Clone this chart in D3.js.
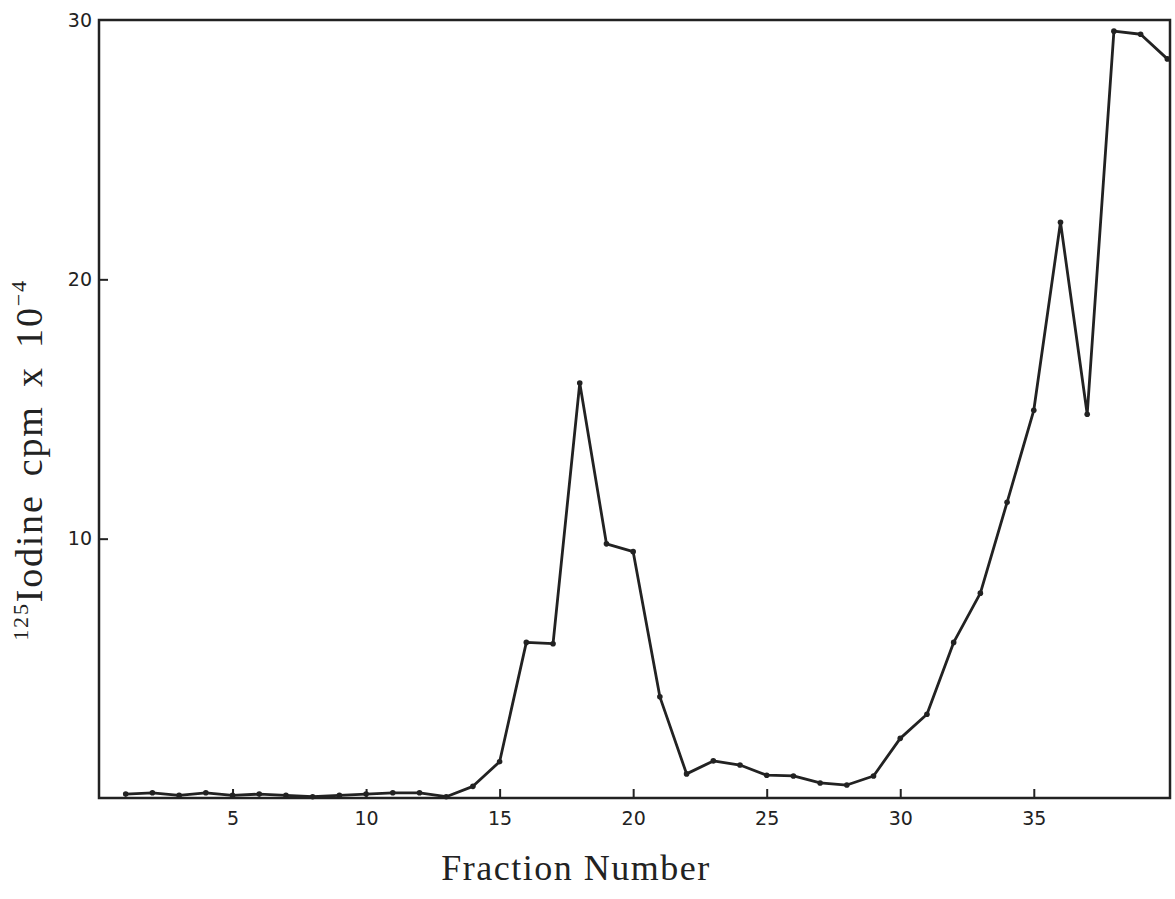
<!DOCTYPE html>
<html>
<head>
<meta charset="utf-8">
<script src="https://cdn.jsdelivr.net/npm/d3@7"></script>
<style>
  body { margin: 0; background: #fff; }
  .tick-label { font-family: "DejaVu Sans", sans-serif; font-size: 19px; fill: #222; }
  .axis-title { font-family: "Liberation Serif", serif; fill: #222; }
</style>
</head>
<body>
<div class="chart"></div>
<script>
var w = 1175,
  h = 899,
  margin = { left: 99, right: 5, top: 20, bottom: 101 };

// fraction numbers and counts (cpm x 10^-4)
var fractions = d3.range(1, 41);
var counts = [0.15, 0.2, 0.1, 0.2, 0.1, 0.15, 0.1, 0.05, 0.1, 0.15,
  0.2, 0.2, 0.05, 0.45, 1.4, 6.0, 5.95, 16.0, 9.8, 9.5,
  3.9, 0.93, 1.43, 1.27, 0.88, 0.85, 0.58, 0.5, 0.85, 2.3,
  3.23, 6.0, 7.9, 11.4, 14.95, 22.2, 14.8, 29.57, 29.45, 28.5];
var xTicks = [5, 10, 15, 20, 25, 30, 35];
var yTicks = [10, 20, 30];

var data = fractions.map(function (f, i) { return { f: f, v: counts[i] }; });

var x = d3.scaleLinear()
  .domain([0, 40.1])
  .range([margin.left, w - margin.right]);

var y = d3.scaleLinear()
  .domain([0, 30])
  .range([h - margin.bottom, margin.top]);

var svg = d3.select('.chart')
  .append('svg')
  .attr('width', w)
  .attr('height', h);

var ink = '#222';

// frame
svg.append('rect')
  .attr('x', x(0))
  .attr('y', y(30))
  .attr('width', x(40.1) - x(0))
  .attr('height', y(0) - y(30))
  .attr('fill', 'none')
  .attr('stroke', ink)
  .attr('stroke-width', 2.5);

// x ticks point inward from the bottom edge
var xAxis = d3.axisBottom(x)
  .tickValues(xTicks)
  .tickSize(-9)
  .tickPadding(14)
  .tickFormat(d3.format('d'));

var gx = svg.append('g')
  .attr('transform', 'translate(0,' + y(0) + ')')
  .call(xAxis);
gx.select('.domain').remove();
gx.selectAll('line').attr('stroke', ink).attr('stroke-width', 2);
gx.selectAll('text').attr('class', 'tick-label').attr('font-family', null).attr('font-size', null);

var yAxis = d3.axisLeft(y)
  .tickValues(yTicks)
  .tickSize(-9)
  .tickPadding(7)
  .tickFormat(d3.format('d'));

var gy = svg.append('g')
  .attr('transform', 'translate(' + x(0) + ',0)')
  .call(yAxis);
gy.select('.domain').remove();
gy.selectAll('line').attr('stroke', ink).attr('stroke-width', 2)
  .attr('display', function (d) { return d === 30 ? 'none' : null; });
gy.selectAll('text').attr('class', 'tick-label').attr('font-family', null).attr('font-size', null);

// profile line
var line = d3.line()
  .x(function (d) { return x(d.f); })
  .y(function (d) { return y(d.v); });

svg.append('path')
  .datum(data)
  .attr('d', line)
  .attr('fill', 'none')
  .attr('stroke', ink)
  .attr('stroke-width', 2.8)
  .attr('stroke-linejoin', 'round');

svg.selectAll('circle.pt')
  .data(data)
  .enter()
  .append('circle')
  .attr('class', 'pt')
  .attr('cx', function (d) { return x(d.f); })
  .attr('cy', function (d) { return y(d.v); })
  .attr('r', 2.8)
  .attr('fill', ink);

// axis titles
svg.append('text')
  .attr('class', 'axis-title')
  .attr('x', 576)
  .attr('y', 880)
  .attr('text-anchor', 'middle')
  .attr('font-size', 36)
  .attr('letter-spacing', 1.5)
  .text('Fraction Number');

var yt = svg.append('text')
  .attr('class', 'axis-title')
  .attr('transform', 'translate(42,460) rotate(-90)')
  .attr('text-anchor', 'middle')
  .attr('font-size', 38)
  .attr('letter-spacing', 1.8)
  .attr('word-spacing', 7);
yt.append('tspan').attr('font-size', 22).attr('dy', -14).text('125');
yt.append('tspan').attr('dy', 14).text('Iodine cpm x 10');
yt.append('tspan').attr('font-size', 22).attr('dy', -16).text('−4');
</script>
</body>
</html>
